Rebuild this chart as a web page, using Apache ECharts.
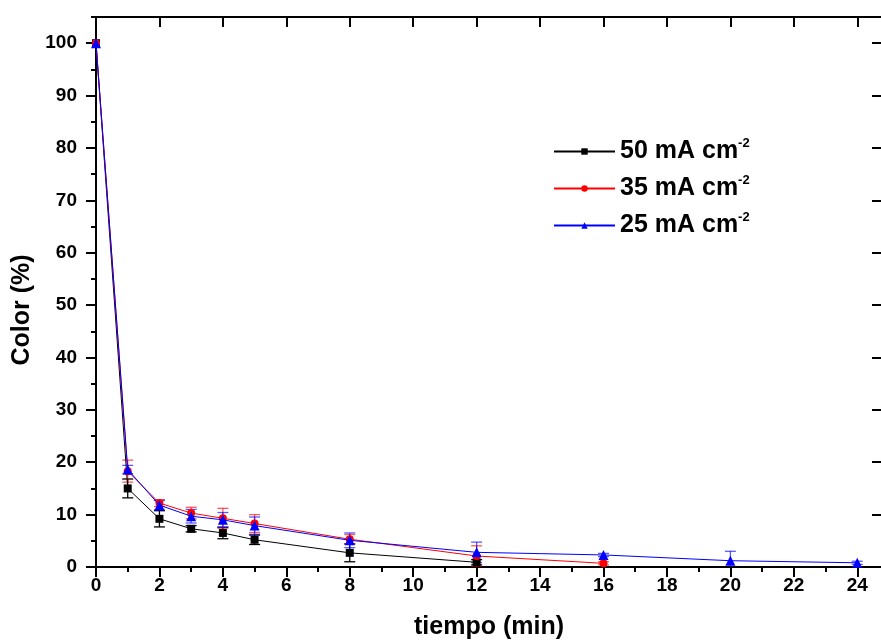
<!DOCTYPE html>
<html>
<head>
<meta charset="utf-8">
<script src="https://cdn.jsdelivr.net/npm/echarts@6/dist/echarts.min.js"></script>
<style>html,body{margin:0;padding:0;background:#fff;}#c{width:881px;height:641px;}</style>
</head>
<body>
<div id="c"></div>
<script>
// ---- data ----
const seriesNames = ['50 mA cm⁻²', '35 mA cm⁻²', '25 mA cm⁻²'];
const legendText = ['50 mA cm', '35 mA cm', '25 mA cm'];
const t50 = [0, 1, 2, 3, 4, 5, 8, 12];
const c50 = [100, 15.0, 9.2, 7.3, 6.5, 5.2, 2.7, 0.9];
const e50 = [0, 1.8, 1.55, 0.6, 1.1, 0.9, 1.7, 0.5];
const t35 = [0, 1, 2, 3, 4, 5, 8, 12, 16];
const c35 = [100, 18.3, 12.2, 10.3, 9.3, 8.3, 5.3, 2.1, 0.7];
const e35 = [0, 2.1, 0.65, 1.1, 1.9, 1.7, 0.9, 1.95, 0.3];
const t25 = [0, 1, 2, 3, 4, 5, 8, 12, 16, 20, 24];
const c25 = [100, 18.6, 11.8, 9.7, 9.0, 7.9, 5.1, 2.8, 2.3, 1.2, 0.8];
const e25 = [0, 0.8, 0.9, 1.3, 1.4, 1.65, 1.4, 1.95, 0.3, 1.8, 0.3];
const xMajor = [0, 2, 4, 6, 8, 10, 12, 14, 16, 18, 20, 22, 24];
const xMinor = [1, 3, 5, 7, 9, 11, 13, 15, 17, 19, 21, 23];
const yMajor = [0, 10, 20, 30, 40, 50, 60, 70, 80, 90, 100];
const yMinor = [5, 15, 25, 35, 45, 55, 65, 75, 85, 95, 105];
const xTitle = 'tiempo (min)';
const yTitle = 'Color (%)';

const X_MIN = 0, X_MAX = 24.78, Y_MIN = 0, Y_MAX = 105;
const FONT = 'Arial, "Liberation Sans", Helvetica, sans-serif';
const lineBlack = { color: '#000', width: 2 };

function zip(t, v) { return t.map((x, i) => [x, v[i]]); }
function zipE(t, v, e) { return t.map((x, i) => [x, v[i], e[i]]); }

function mkX(opts) {
  return Object.assign({
    type: 'value', min: X_MIN, max: X_MAX, gridIndex: 0,
    splitLine: { show: false },
    axisLine: { show: false, lineStyle: lineBlack },
    axisLabel: { show: false },
    axisTick: { show: false }
  }, opts);
}
function mkY(opts) {
  return Object.assign({
    type: 'value', min: Y_MIN, max: Y_MAX, gridIndex: 0,
    splitLine: { show: false },
    axisLine: { show: false, lineStyle: lineBlack },
    axisLabel: { show: false },
    axisTick: { show: false }
  }, opts);
}

const xAxes = [
  mkX({
    position: 'bottom',
    axisLine: { show: true, onZero: false, lineStyle: lineBlack },
    axisTick: { show: true, inside: false, length: 10, customValues: xMajor, lineStyle: { color: '#000', width: 2 } },
    axisLabel: { show: true, customValues: xMajor, margin: 9, color: '#000', fontFamily: FONT, fontWeight: 'bold', fontSize: 19 },
    name: xTitle, nameLocation: 'middle', nameGap: 48,
    nameTextStyle: { color: '#000', fontFamily: FONT, fontWeight: 'bold', fontSize: 25 }
  }),
  mkX({
    position: 'bottom',
    axisTick: { show: true, inside: false, length: 5, customValues: xMinor, lineStyle: { color: '#000', width: 2 } }
  }),
  mkX({
    position: 'top',
    axisLine: { show: true, onZero: false, lineStyle: lineBlack },
    axisTick: { show: true, inside: true, length: 10, customValues: xMajor, lineStyle: { color: '#000', width: 2 } }
  }),
  mkX({
    position: 'top',
    axisTick: { show: true, inside: true, length: 5, customValues: xMinor, lineStyle: { color: '#000', width: 2 } }
  })
];
const yAxes = [
  mkY({
    position: 'left',
    axisLine: { show: true, onZero: false, lineStyle: lineBlack },
    axisTick: { show: true, inside: false, length: 10, customValues: yMajor, lineStyle: { color: '#000', width: 2 } },
    axisLabel: { show: true, customValues: yMajor, margin: 19, color: '#000', fontFamily: FONT, fontWeight: 'bold', fontSize: 19 },
    name: yTitle, nameLocation: 'middle', nameGap: 60,
    nameTextStyle: { color: '#000', fontFamily: FONT, fontWeight: 'bold', fontSize: 25, padding: [0, 36, 0, 0] }
  }),
  mkY({
    position: 'left',
    axisTick: { show: true, inside: false, length: 5, customValues: yMinor, lineStyle: { color: '#000', width: 2 } }
  }),
  mkY({
    position: 'right',
    axisLine: { show: true, onZero: false, lineStyle: lineBlack },
    axisTick: { show: true, inside: true, length: 10, customValues: yMajor, lineStyle: { color: '#000', width: 2 } }
  }),
  mkY({
    position: 'right',
    axisTick: { show: true, inside: true, length: 5, customValues: yMinor, lineStyle: { color: '#000', width: 2 } }
  })
];

function errSeries(data, color, z) {
  return {
    type: 'custom', xAxisIndex: 0, yAxisIndex: 0, z: z, silent: true,
    encode: { x: 0, y: 1 },
    data: data,
    renderItem: function (params, api) {
      const x = api.value(0), y = api.value(1), e = api.value(2);
      if (!e) return null;
      const lo = Math.max(Y_MIN, y - e), hi = y + e;
      const pt = api.coord([x, hi]);
      const pb = api.coord([x, lo]);
      const hw = 5.5;
      const st = { stroke: color, lineWidth: 1.3, fill: null };
      const ch = [
        { type: 'line', shape: { x1: pt[0], y1: pt[1], x2: pb[0], y2: pb[1] }, style: st },
        { type: 'line', shape: { x1: pt[0] - hw, y1: pt[1], x2: pt[0] + hw, y2: pt[1] }, style: st }
      ];
      if (y - e >= Y_MIN) ch.push({ type: 'line', shape: { x1: pb[0] - hw, y1: pb[1], x2: pb[0] + hw, y2: pb[1] }, style: st });
      return { type: 'group', children: ch };
    }
  };
}

function lineSeries(name, data, color, symbol, size, z) {
  return {
    name: name, type: 'line', xAxisIndex: 0, yAxisIndex: 0, z: z,
    data: data, symbol: symbol, symbolSize: size, showSymbol: true,
    lineStyle: { color: color, width: 1 },
    itemStyle: { color: color },
    emphasis: { disabled: true }, animation: false
  };
}

const chart = echarts.init(document.getElementById('c'), null, { renderer: 'canvas' });
chart.setOption({
  animation: false,
  backgroundColor: '#fff',
  grid: { left: 96, right: -1, top: 17, bottom: 74, containLabel: false, outerBoundsMode: 'none' },
  xAxis: xAxes,
  yAxis: yAxes,
  legend: {
    data: seriesNames,
    orient: 'vertical', left: 548, top: 132,
    itemWidth: 61, itemHeight: 8, itemGap: 10,
    formatter: function (n) { return '{a|' + legendText[seriesNames.indexOf(n)] + '}{s|-2}'; },
    textStyle: {
      rich: {
        a: { fontFamily: FONT, fontWeight: 'bold', fontSize: 25, color: '#000', lineHeight: 25 },
        s: { fontFamily: FONT, fontWeight: 'bold', fontSize: 13, color: '#000', padding: [0, 0, 16, 0] }
      }
    }
  },
  series: [
    errSeries(zipE(t50, c50, e50), '#000', 2),
    errSeries(zipE(t35, c35, e35), 'rgba(255,0,0,0.65)', 3),
    errSeries(zipE(t25, c25, e25), 'rgba(0,0,255,0.65)', 4),
    lineSeries(seriesNames[0], zip(t50, c50), '#000', 'rect', 8, 5),
    lineSeries(seriesNames[1], zip(t35, c35), '#ff0000', 'circle', 8, 6),
    lineSeries(seriesNames[2], zip(t25, c25), '#0000ff', 'triangle', 10, 7)
  ]
});
</script>
</body>
</html>
